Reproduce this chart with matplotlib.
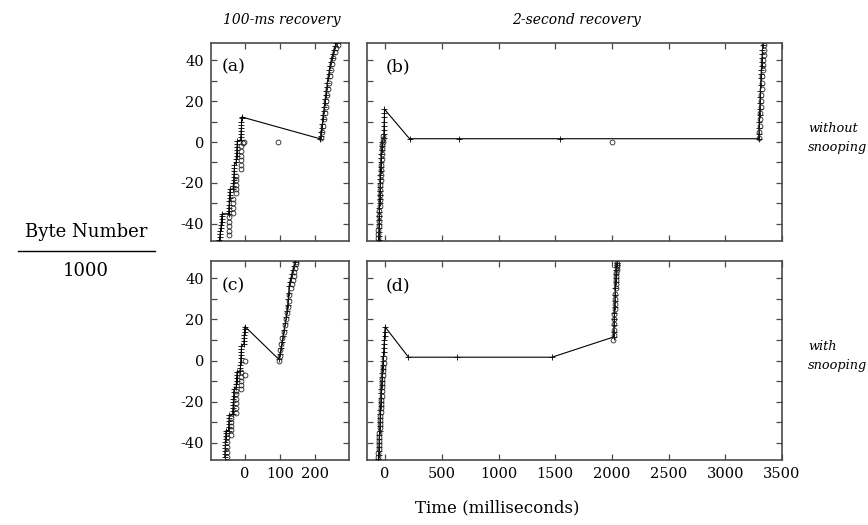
import matplotlib
matplotlib.use("Agg")
import matplotlib.pyplot as plt
from matplotlib.lines import Line2D

# ---------------- data (time in ms, byte number / 1000) ----------------
# Panel (a): 100-ms recovery, without snooping
a_sent_t = [-73, -72, -71, -70, -69, -68, -67, -67, -66, -65,
            -47, -46, -46, -45, -45, -44, -44, -43, -43,
            -34, -33, -33, -32, -32, -31, -31, -30, -30,
            -25, -25, -24, -24, -23, -23, -22, -22,
            -12, -12, -11, -11, -10, -10, -10, -9, -9,
            214, 216, 218, 219, 221, 222, 223, 225, 226, 228, 229, 231, 232,
            234, 235, 237, 239, 241, 243, 245, 248, 251, 254, 258, 262]
a_sent_v = [-48, -46.5, -45, -43.5, -42, -40.5, -39, -37.5, -36, -35,
            -35, -33.5, -32, -30.5, -29, -27.5, -26, -24.5, -23,
            -23, -21.5, -20, -18.5, -17, -15.5, -14, -12.5, -11,
            -10, -8.5, -7, -5.5, -4, -2.5, -1, 0.5,
            1, 2.5, 4, 5.5, 7, 8.5, 10, 11.5, 12.2,
            1.6, 3, 5, 7, 9, 11, 13, 15, 17, 19, 21, 23, 25,
            27, 29, 31, 33, 35, 37, 39, 41, 43, 45, 47, 48.5]
a_ack_t = [-46, -46, -46, -46, -46,
           -35, -35, -35, -35,
           -26, -26, -26, -26, -26,
           -10, -10, -10, -10, -10, -10,
           -6, -2, 93,
           218, 221, 223, 225, 228, 230, 232, 234, 237, 240, 243, 246,
           249, 252, 256, 261, 266]
a_ack_v = [-36.5, -39, -41, -43.4, -45.5,
           -27.6, -29.9, -32.3, -34.6,
           -16.7, -18.7, -20.8, -22.8, -24.9,
           -2.1, -4.2, -6.6, -8.7, -11, -13,
           -0.5, 0, 0,
           2, 5, 8, 11, 14, 17, 20, 23, 26, 29, 32, 35,
           38, 41, 44, 46, 47.5]

# Panel (b): 2-second recovery, without snooping
b_sent_t = [-58, -57, -56, -55, -54, -53, -52, -51, -50, -49, -48, -47,
            -46, -45, -44, -43, -42, -40, -39, -37, -35, -33, -31, -29, -27,
            -12, -11, -10, -9, -8, -7, -6, -6,
            215, 653, 1544, 3294,
            3296, 3298, 3300, 3302, 3304, 3306, 3308, 3310, 3312,
            3314, 3316, 3318, 3320, 3322, 3324, 3326, 3328, 3330]
b_sent_v = [-48, -46, -44, -42, -40, -38, -36, -34, -32, -30, -28, -26,
            -24, -22, -20, -18, -16, -14, -12, -10, -8, -6, -4, -2, 0,
            2, 4, 6, 8, 10, 12, 14, 16,
            1.6, 1.6, 1.6, 1.6,
            4, 7, 10, 13, 16, 19, 22, 25, 28,
            31, 33, 35, 37, 39, 41, 43, 45, 47.5]
b_ack_t = [-63, -61, -59, -57, -55, -53, -51, -49, -47, -45, -43, -41,
           -39, -37, -35, -33, -31, -29, -27, -24, -21, -18, -15,
           2003,
           3298, 3300, 3303, 3306, 3309, 3312, 3315, 3318, 3321, 3324,
           3327, 3330, 3333, 3336, 3339, 3342, 3344]
b_ack_v = [-47, -45, -43, -41, -38.5, -36, -33.5, -31, -28.5, -26, -23.5, -21,
           -18.5, -16, -13.5, -11, -8.5, -6, -3.5, -1.5, 0, 1.5, 3,
           0,
           2, 5, 8, 11, 14, 17, 20, 23, 26, 29,
           32, 35, 37.5, 40, 42.5, 45, 47.5]

# Panel (c): 100-ms recovery, with snooping
c_sent_t = [-58, -57, -57, -56, -56, -56, -55, -55, -54, -54,
            -47, -47, -46, -46, -45, -45,
            -35, -35, -34, -34, -33, -33, -32, -32, -31,
            -25, -25, -24, -24, -23, -23,
            -14, -13, -13, -12, -12, -11, -11, -10, -10,
            -3, -3, -2, -2, -1, -1, 0,
            97, 100, 103, 106, 109, 112, 115, 118, 120, 122, 124, 125,
            126, 128, 131, 134, 137, 140, 143]
c_sent_v = [-47, -45.5, -44, -42.5, -41, -39.5, -38, -36.5, -35, -34,
            -34, -32.5, -31, -29.5, -28, -26.5,
            -26, -24.5, -23, -21.5, -20, -18.5, -17, -15.5, -14,
            -13, -11.5, -10, -8.5, -7, -5.5,
            -5, -3.5, -2, -0.5, 1, 2.5, 4, 5.5, 7,
            8, 9.5, 11, 12.5, 14, 15.5, 16.5,
            0.5, 3, 6, 9, 12, 15, 18, 21, 24, 27, 30, 33,
            36, 38, 40, 42, 44, 46, 48]
c_ack_t = [-51, -51, -51, -51, -51,
           -40, -40, -40, -40, -40,
           -26, -26, -26, -26, -26, -26,
           -11, -11, -11, -11, -11,
           0, 0,
           97, 99, 101, 104, 107, 110, 113, 116, 119, 122, 125, 127,
           130, 133, 136, 139, 141, 143, 145, 147]
c_ack_v = [-37, -39.5, -42, -44.5, -47,
           -27.7, -29.7, -31.6, -33.7, -36,
           -14.8, -16.4, -18.8, -20.8, -22.9, -25.3,
           -5.6, -7.9, -10, -12, -13.7,
           -7, 0,
           0, 2, 5, 8, 11, 14, 17, 20, 23, 26, 29, 32,
           35, 37, 39, 41, 43, 45, 47, 48]

# Panel (d): 2-second recovery, with snooping
d_sent_t = [-59, -58, -56, -55, -53, -52, -50, -49, -47, -46, -44, -43,
            -41, -40, -38, -37, -35, -33, -31, -29, -27, -25, -23, -21, -18,
            -15, -13, -11, -9, -7, -5, -3, 0,
            206, 633, 1471, 2014,
            2016, 2018, 2020, 2022, 2024, 2026, 2028, 2030, 2032, 2034,
            2036, 2038, 2040, 2042, 2044]
d_sent_v = [-48, -46, -44, -42, -40, -38, -36, -34, -32, -30, -28, -26,
            -24, -22, -20, -18, -16, -14, -12, -10, -8, -6, -4, -2, 0,
            2, 4, 6, 8, 10, 12, 14, 16.3,
            1.6, 1.6, 1.6, 11.4,
            14, 17, 20, 23, 26, 29, 32, 35, 38, 40,
            42, 44, 45.5, 46.5, 47.5]
d_ack_t = [-62, -60, -58, -56, -54, -52, -50, -48, -46, -44, -42, -40,
           -38, -36, -34, -32, -30, -28, -26, -24, -22, -19, -16, -13, -10,
           2012, 2014, 2016, 2018, 2020, 2022, 2024, 2026, 2028, 2030,
           2032, 2034, 2036, 2038, 2040, 2042, 2044, 2046, 2048]
d_ack_v = [-47, -45, -43, -41, -39, -37, -35, -33, -31, -29, -27, -25,
           -23, -21, -19, -17, -15, -13, -11, -9, -7, -5, -3, -1, 1,
           10, 12.5, 15, 17.5, 20, 22.5, 25, 27.5, 30, 32.5,
           35, 37, 39, 41, 42.5, 44, 45.5, 46.5, 47.5]

# axes & text
y_ticks = [-40, -30, -20, -10, 0, 10, 20, 30, 40]
y_ticklabels = ['-40', '', '-20', '', '0', '', '20', '', '40']
short_xticks = [0, 100, 200]
long_xticks = [0, 500, 1000, 1500, 2000, 2500, 3000, 3500]
panel_labels = ['(a)', '(b)', '(c)', '(d)']
col_titles = ['100-ms recovery', '2-second recovery']
row_labels = ['without\nsnooping', 'with\nsnooping']

# ---------------- figure ----------------
W, H = 868, 525
fig = plt.figure(figsize=(W / 100, H / 100), dpi=100)
SERIF = ['DejaVu Serif']
FRAME = '#4a4a4a'


def px_axes(x0, y0, x1, y1):
    return fig.add_axes([x0 / W, 1 - y1 / H, (x1 - x0) / W, (y1 - y0) / H])


ax_a = px_axes(211, 43, 349, 241)
ax_b = px_axes(367, 43, 782, 241)
ax_c = px_axes(211, 261, 349, 460)
ax_d = px_axes(367, 261, 782, 460)

panels = [
    (ax_a, a_sent_t, a_sent_v, a_ack_t, a_ack_v, (-97, 297), short_xticks, True, False),
    (ax_b, b_sent_t, b_sent_v, b_ack_t, b_ack_v, (-160, 3500), long_xticks, False, False),
    (ax_c, c_sent_t, c_sent_v, c_ack_t, c_ack_v, (-97, 297), short_xticks, True, True),
    (ax_d, d_sent_t, d_sent_v, d_ack_t, d_ack_v, (-160, 3500), long_xticks, False, True),
]

for i, (ax, st, sv, at, av, xl, xt, ylab, xlab) in enumerate(panels):
    ax.plot(st, sv, color='black', lw=0.8, marker='+', ms=4.5, mew=0.6, zorder=3)
    ax.plot(at, av, ls='none', marker='o', ms=3.5, mfc='none', mec='#222222',
            mew=0.6, zorder=4)
    ax.set_xlim(*xl)
    ax.set_ylim(-48.3, 48.3)
    ax.set_xticks(xt)
    ax.set_yticks(y_ticks)
    ax.tick_params(direction='in', length=4, width=0.9, color=FRAME,
                   top=True, right=True, labelsize=10.5, pad=5)
    if ylab:
        ax.set_yticklabels(y_ticklabels, family=SERIF)
    else:
        ax.set_yticklabels([])
    if xlab:
        ax.set_xticklabels([str(v) for v in xt], family=SERIF)
    else:
        ax.set_xticklabels([])
    for sp in ax.spines.values():
        sp.set_color(FRAME)
        sp.set_linewidth(1.2)
    ax.text(0.075 if ylab else 0.045, 0.92, panel_labels[i],
            transform=ax.transAxes, ha='left', va='top', fontsize=12.5,
            family=SERIF)
    ax.patch.set_facecolor('white')

# column titles
fig.text(282 / W, 1 - 20 / H, col_titles[0], ha='center', va='center',
         fontsize=10, style='italic', family=SERIF)
fig.text(577 / W, 1 - 20 / H, col_titles[1], ha='center', va='center',
         fontsize=10, style='italic', family=SERIF)

# row labels
fig.text(808 / W, 1 - 138 / H, row_labels[0], ha='left', va='center',
         fontsize=9.3, style='italic', family=SERIF, linespacing=1.5)
fig.text(808 / W, 1 - 356 / H, row_labels[1], ha='left', va='center',
         fontsize=9.3, style='italic', family=SERIF, linespacing=1.5)

# y label as fraction
fig.text(86 / W, 1 - 232 / H, 'Byte Number', ha='center', va='center',
         fontsize=13, family=SERIF)
fig.text(86 / W, 1 - 271 / H, '1000', ha='center', va='center',
         fontsize=13, family=SERIF)
fig.add_artist(Line2D([18 / W, 155 / W], [1 - 251 / H, 1 - 251 / H],
                      transform=fig.transFigure, color='black', lw=1.0))

# x label
fig.text(497 / W, 1 - 508 / H, 'Time (milliseconds)', ha='center', va='center',
         fontsize=12, family=SERIF)

fig.savefig('out.png', dpi=100, facecolor='white')
